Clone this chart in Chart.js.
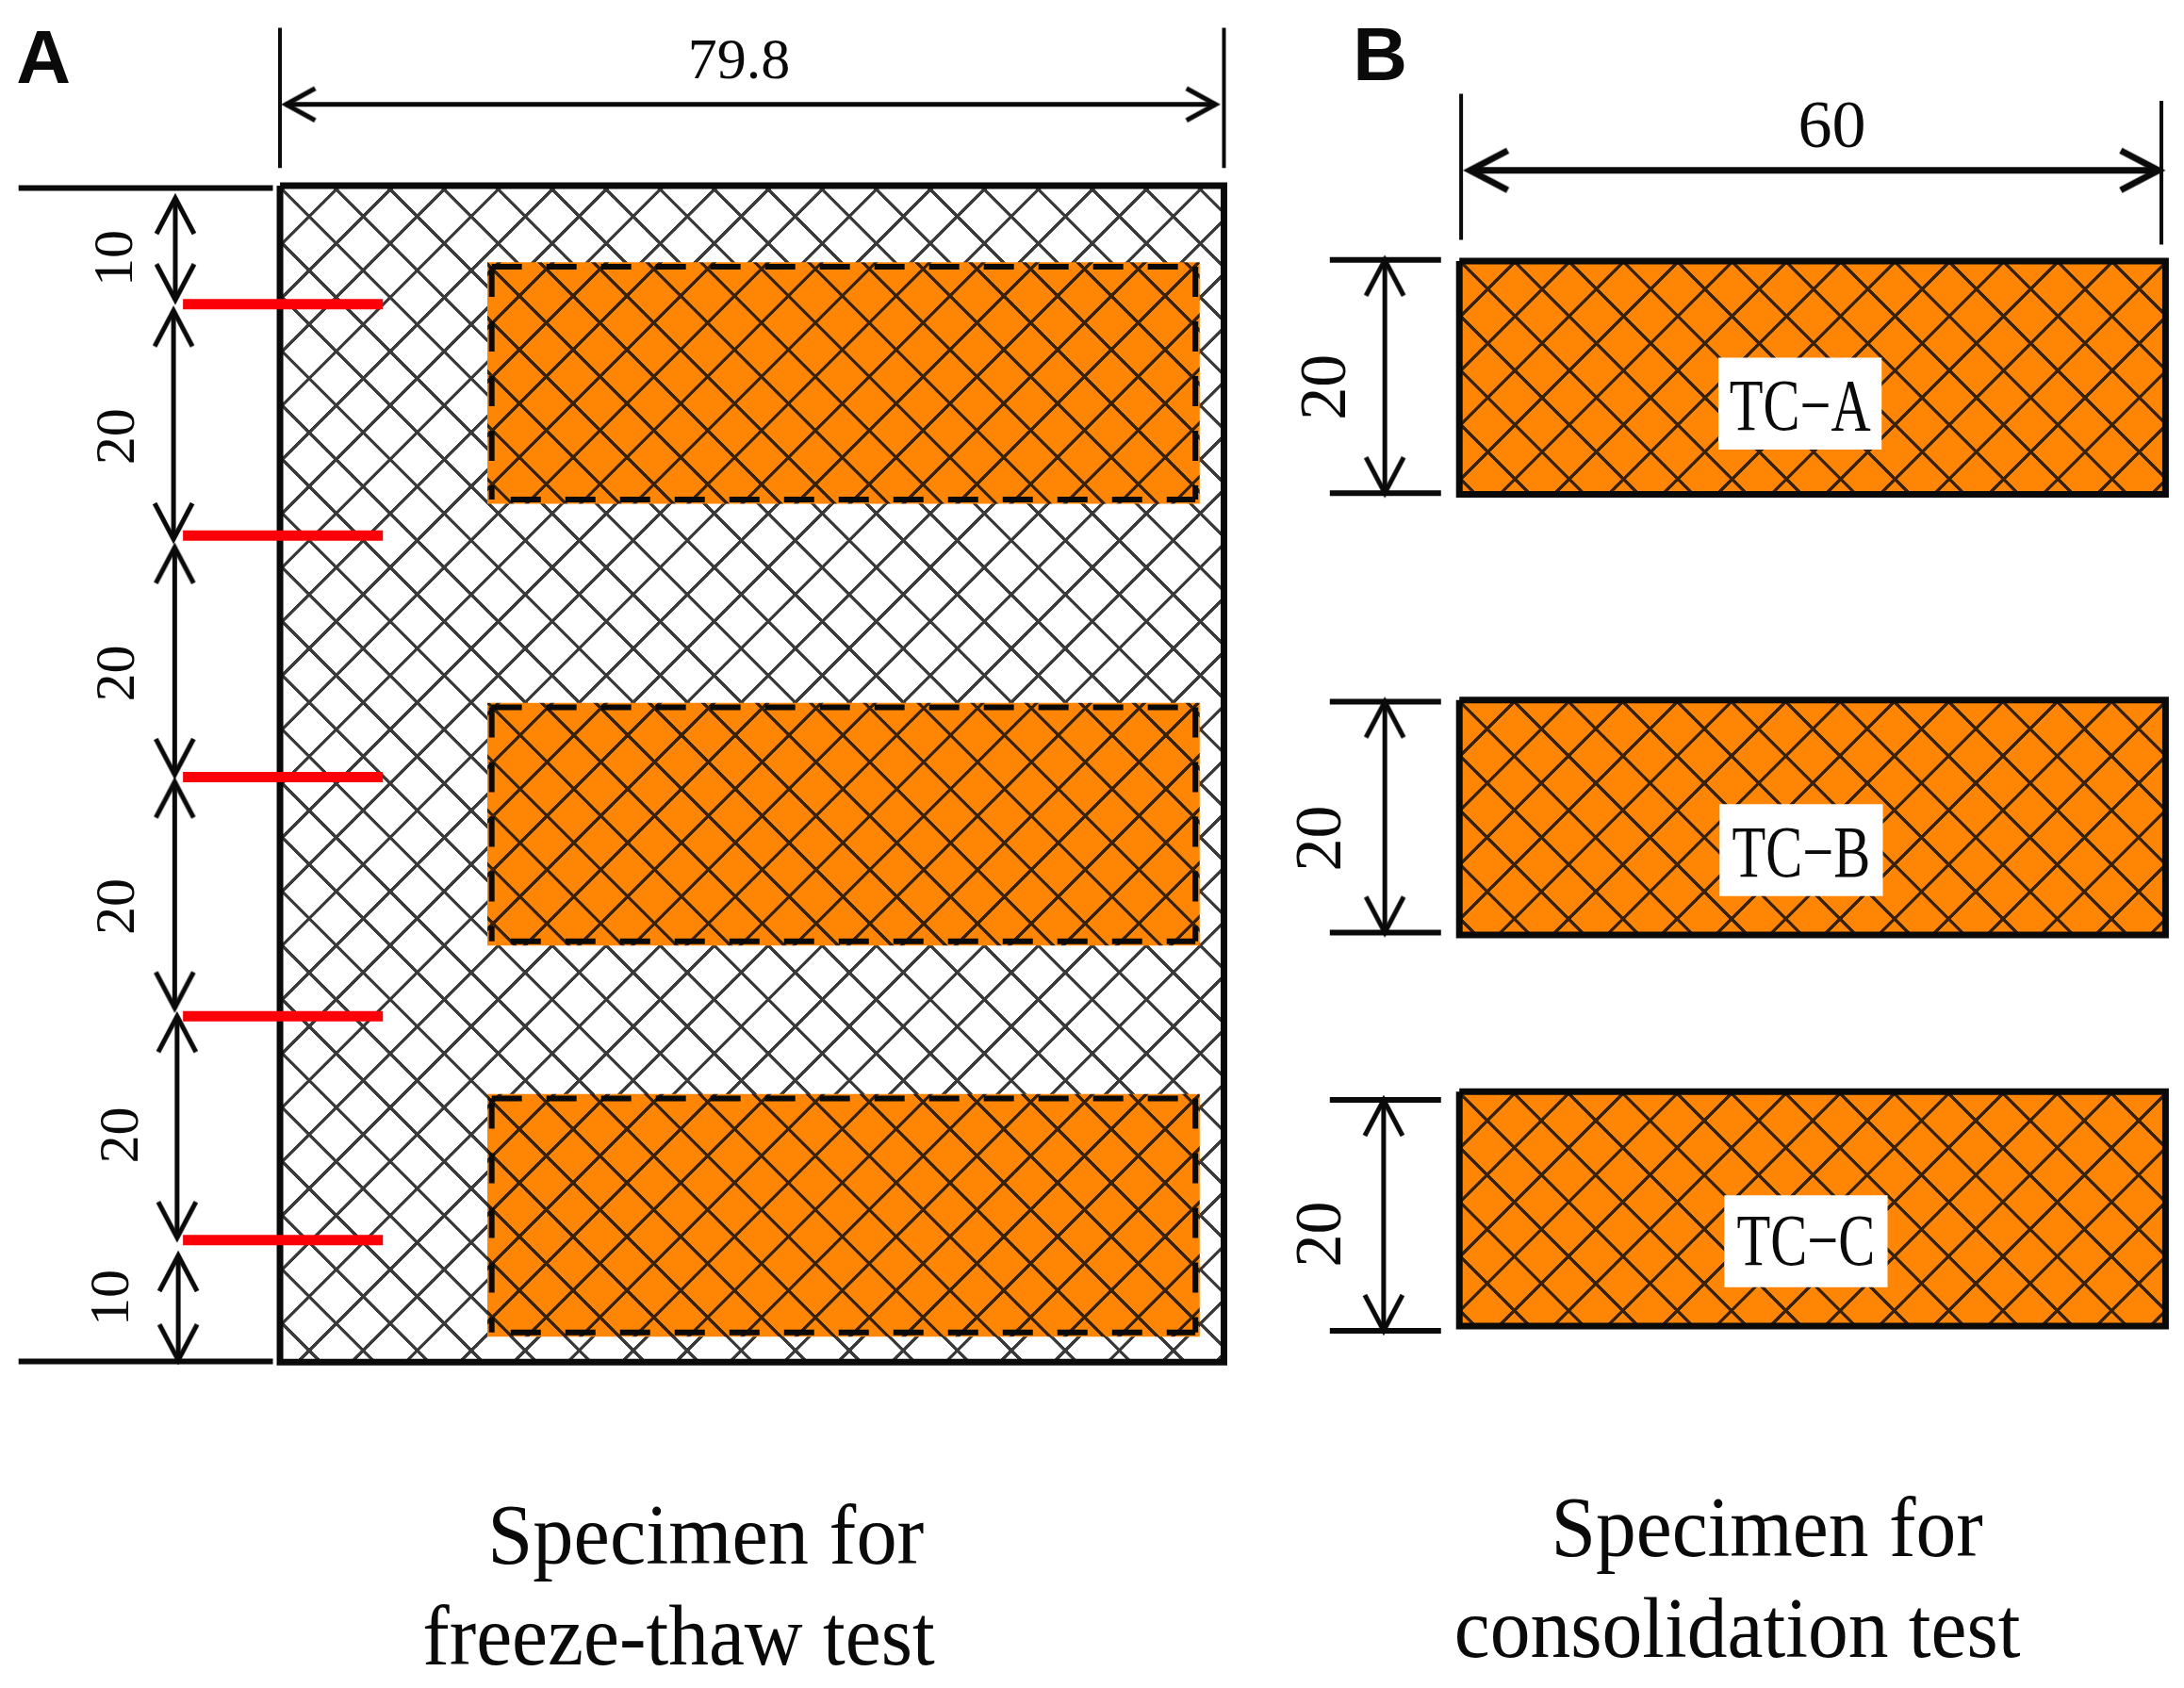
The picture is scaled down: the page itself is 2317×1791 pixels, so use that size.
<!DOCTYPE html>
<html>
<head>
<meta charset="utf-8">
<title>Specimen layout</title>
<script src="https://cdn.jsdelivr.net/npm/chart.js@4"></script>
<style>
  html, body { margin: 0; padding: 0; background: #fff; }
  canvas { display: block; }
</style>
</head>
<body>
<canvas id="myChart" width="2317" height="1791"></canvas>
<script>
// All lengths are in mm, measured from the top left corner of specimen A
const frameX = [0, 79.8];
const frameY = [0, 99.85];
const coreX = [17.53, 77.75];
const coreTops = [6.5, 43.9, 77.1];
const coreBottoms = [27, 64.5, 97.7];
const tcX = [99.7, 159.4];
const tcTops = [6.4, 43.65, 76.9];
const tcBottoms = [26.2, 63.6, 96.8];

// thermocouple wires
const wireX = [-8.2, 8.7];
const wireY = [10.05, 29.7, 50.2, 70.5, 89.5];

// dimension lines of specimen A
const dimAX = [-8.85, -9, -8.9, -8.9, -8.7, -8.6];
const dimAStart = [1.05, 10.6, 30.7, 50.6, 70.5, 90.8];
const dimAEnd = [9.7, 30, 50, 69.8, 89.3, 99.7];
const extAX = [-22.1, -0.6];
const extAY = [0.2, 99.8];
const topExtA = [-13.4, -1.5];
const topArrowAY = -6.9;
const topArrowAX = [0.5, 79.1];

// dimension lines of specimen B
const dimBX = [93.4, 93.4, 93.3];
const extBX = [88.75, 98.15];
const extBTops = [6.3, 43.8, 77.6];
const extBBottoms = [26.1, 63.4, 97.2];
const topExtBX = [99.85, 159.05];
const topExtBY = [[-7.8, 4.6], [-7.2, 5]];
const topArrowBY = -1.3;
const topArrowBX = [100.6, 158.8];

// text boxes on the B specimens
const tcNames = ['TC\u2212A', 'TC\u2212B', 'TC\u2212C'];
const tcBoxX = [128.5, 128.6, 129];
const tcBoxY = [18.5, 56.4, 89.6];
const tcNameY = [19.1, 57, 89.95];
const tcBoxW = 6.9;
const tcBoxH = 3.9;

const dimAText = ['10', '20', '20', '20', '20', '10'];
const dimATextX = [-13.8, -13.6, -13.6, -13.6, -13.3, -14.1];
const dimATextY = [6.15, 21.3, 41.4, 61.2, 80.6, 94.4];
const dimBText = ['20', '20', '20'];
const dimBTextX = [88.6, 88.2, 88.2];
const dimBTextY = [17.1, 55.4, 89];

const ink = '#0a0a0a';
const orange = '#ff8505';
const red = '#fb0007';

function corners(x0, x1, y0, y1) {
    return [{x: x0, y: y0}, {x: x1, y: y0}, {x: x1, y: y1}, {x: x0, y: y1}, {x: x0, y: y0}];
}

// Diamond hatch as a repeating tile, px/py put one crossing of the lattice on the page
function hatch(bg, period, px, py, stroke) {
    const size = 240;
    const tile = document.createElement('canvas');
    tile.width = size;
    tile.height = size;
    const c = tile.getContext('2d');
    c.fillStyle = bg;
    c.fillRect(0, 0, size, size);
    c.strokeStyle = stroke;
    c.lineWidth = 14;
    for (const [a, b, e, f] of [[0, 0, size, size], [size, 0, 0, size]]) {
        c.beginPath();
        c.moveTo(a, b);
        c.lineTo(e, f);
        c.stroke();
    }
    const pattern = c.createPattern(tile, 'repeat');
    const k = period / size;
    pattern.setTransform(new DOMMatrix([k, 0, 0, k, px, py]));
    return pattern;
}

// Open arrow head, the tip sits in the middle of the canvas so rotation turns round it
function arrowHead(len, half, lw) {
    const size = Math.ceil(len * 2 + lw * 4);
    const head = document.createElement('canvas');
    head.width = size;
    head.height = size;
    const c = head.getContext('2d');
    const m = size / 2;
    c.strokeStyle = ink;
    c.lineWidth = lw;
    c.beginPath();
    c.moveTo(m + len, m - half);
    c.lineTo(m, m);
    c.lineTo(m + len, m + half);
    c.stroke();
    return head;
}

const headThin = arrowHead(31, 17, 5);
const headV = arrowHead(38, 20, 5);
const headB = arrowHead(40, 21, 7);

const sets = [];   // pushed bottom first, reversed before the chart is made

function shape(points, fillStyle) {
    sets.push({data: points, showLine: true, fill: 'shape', backgroundColor: fillStyle, borderWidth: 0, pointRadius: 0});
}
function line(points, color, width, dash) {
    sets.push({data: points, showLine: true, fill: false, borderColor: color, borderWidth: width, borderDash: dash || [], pointRadius: 0});
}
function arrow(points, color, width, head, rotations) {
    sets.push({data: points, showLine: true, fill: false, borderColor: color, borderWidth: width,
        pointStyle: head, pointRadius: 1, pointRotation: rotations});
}

// Specimen A
shape(corners(frameX[0], frameX[1], frameY[0], frameY[1]), hatch('#ffffff', 57.3, 328, 229.6, '#3a3a3a'));
const corePhase = [[579.5, 342.5], [551.7, 780], [579.5, 1283.5]];
const dashInset = 0.37;
const coreDash = [32, 26];
coreTops.forEach((top, i) => {
    shape(corners(coreX[0], coreX[1], top, coreBottoms[i]), hatch(orange, 57.1, corePhase[i][0], corePhase[i][1], '#3a2206'));
    const l = coreX[0] + dashInset, r = coreX[1] - dashInset, t = top + dashInset, b = coreBottoms[i] - dashInset;
    line([{x: l, y: t}, {x: r, y: t}], ink, 6, coreDash);
    line([{x: l, y: t}, {x: l, y: b}], ink, 6, coreDash);
    line([{x: r, y: t}, {x: r, y: b}], ink, 6, coreDash);
    line([{x: l + 1.6, y: b}, {x: r, y: b}], ink, 6, coreDash);
});
line(corners(frameX[0], frameX[1], frameY[0], frameY[1]), ink, 7);
extAY.forEach(y => line([{x: extAX[0], y: y}, {x: extAX[1], y: y}], ink, 6));
frameX.forEach(x => line([{x: x, y: topExtA[0]}, {x: x, y: topExtA[1]}], ink, 4));
arrow([{x: topArrowAX[0], y: topArrowAY}, {x: topArrowAX[1], y: topArrowAY}], ink, 5, headThin, [0, 180]);
dimAX.forEach((x, i) => arrow([{x: x, y: dimAStart[i]}, {x: x, y: dimAEnd[i]}], ink, 5, headV, [90, 270]));
wireY.forEach(y => line([{x: wireX[0], y: y}, {x: wireX[1], y: y}], red, 11));

// Specimen B
const tcPhase = [[1578.4, 306.7], [1577.7, 773.3], [1577.7, 1189]];
tcTops.forEach((top, i) => {
    shape(corners(tcX[0], tcX[1], top, tcBottoms[i]), hatch(orange, 57.6, tcPhase[i][0], tcPhase[i][1], '#3a2206'));
    line(corners(tcX[0], tcX[1], top, tcBottoms[i]), ink, 7);
    shape(corners(tcBoxX[i] - tcBoxW, tcBoxX[i] + tcBoxW, tcBoxY[i] - tcBoxH, tcBoxY[i] + tcBoxH), '#ffffff');
    line([{x: extBX[0], y: extBTops[i]}, {x: extBX[1], y: extBTops[i]}], ink, 6);
    line([{x: extBX[0], y: extBBottoms[i]}, {x: extBX[1], y: extBBottoms[i]}], ink, 6);
    arrow([{x: dimBX[i], y: extBTops[i]}, {x: dimBX[i], y: extBBottoms[i]}], ink, 5, headV, [90, 270]);
});
topExtBX.forEach((x, i) => line([{x: x, y: topExtBY[i][0]}, {x: x, y: topExtBY[i][1]}], ink, 4));
arrow([{x: topArrowBX[0], y: topArrowBY}, {x: topArrowBX[1], y: topArrowBY}], ink, 7, headB, [0, 180]);

// Text goes through the same scales as the marks
const texts = [
    {t: 'A', x: -20, y: -10.5, font: 'bold 80px "Liberation Sans"'},
    {t: 'B', x: 93, y: -10.7, font: 'bold 80px "Liberation Sans"'},
    {t: '79.8', x: 38.8, y: -10.4, size: 62},
    {t: '60', x: 131.2, y: -4.8, size: 72},
    {t: 'Specimen for', x: 36, y: 115.1, size: 90, sx: 0.96},
    {t: 'freeze-thaw test', x: 33.7, y: 123.6, size: 90, sx: 0.95},
    {t: 'Specimen for', x: 125.7, y: 114.4, size: 90, sx: 0.95},
    {t: 'consolidation test', x: 123.2, y: 123, size: 90, sx: 0.95}
];
dimAText.forEach((t, i) => texts.push({t: t, x: dimATextX[i], y: dimATextY[i], size: 60, rot: -90}));
dimBText.forEach((t, i) => texts.push({t: t, x: dimBTextX[i], y: dimBTextY[i], size: 70, rot: -90}));
tcNames.forEach((t, i) => texts.push({t: t, x: tcBoxX[i], y: tcNameY[i], size: 78, sx: 0.75}));

const textPlugin = {
    id: 'diagramText',
    afterDatasetsDraw(chart) {
        const ctx = chart.ctx;
        const xs = chart.scales.x;
        const ys = chart.scales.y;
        texts.forEach(l => {
            ctx.save();
            ctx.translate(xs.getPixelForValue(l.x), ys.getPixelForValue(l.y));
            ctx.rotate((l.rot || 0) * Math.PI / 180);
            ctx.scale(l.sx || 1, 1);
            ctx.font = l.font || (l.size + 'px "Liberation Serif"');
            ctx.fillStyle = ink;
            ctx.textAlign = 'center';
            ctx.textBaseline = 'middle';
            ctx.fillText(l.t, 0, 0);
            ctx.restore();
        });
    }
};

const ctx = document.getElementById('myChart').getContext('2d');
const chart = new Chart(ctx, {
    type: 'scatter',
    data: {datasets: sets.reverse()},
    options: {
        responsive: false,
        animation: false,
        devicePixelRatio: 1,
        layout: {padding: 0, autoPadding: false},
        elements: {line: {tension: 0, borderCapStyle: 'butt', borderJoinStyle: 'miter'}},
        plugins: {legend: {display: false}, tooltip: {enabled: false}, title: {display: false}},
        scales: {
            x: {type: 'linear', display: false, min: -23.67, max: 160.96},
            y: {type: 'linear', display: false, min: -15.76, max: 127.52, reverse: true}
        }
    },
    plugins: [textPlugin]
});
</script>
</body>
</html>
